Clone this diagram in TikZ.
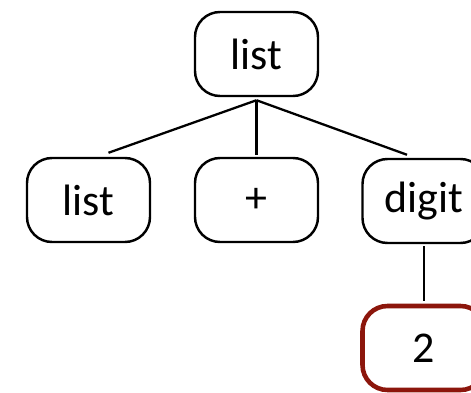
\documentclass[tikz,border=0pt]{standalone}
\usepackage{fontspec}
\setmainfont{Carlito}
\usepackage{tikz}

\tikzset{
	tnode/.style={draw, line width=1.4pt, rounded corners=0.5cm, minimum width=2.46cm, minimum height=1.68cm, font=\fontsize{25}{28}\selectfont},
	leaf/.style={tnode, draw={rgb,255:red,140;green,22;blue,12}, line width=2.6pt},
	edge/.style={line width=1.3pt}
}

\begin{document}
\begin{tikzpicture}[x=0.2mm,y=-0.2mm]
\useasboundingbox (0,0) rectangle (471,393);

\node[tnode] (top) at (256.5,54) {list};
\node[tnode] (list) at (88.5,200) {list};
\node[tnode] (plus) at (256.5,200) {+};
\node[tnode] (digit) at (424,201) {digit};
\node[leaf] (two) at (424,348) {2};

\coordinate (hub) at ([yshift=-0.06cm]top.south);

\draw[edge] (hub) -- ([xshift=0.4cm,yshift=0.08cm]list.north);
\draw[edge] (hub) -- ([yshift=0.04cm]plus.north);
\draw[edge] (hub) -- ([xshift=-0.34cm,yshift=0.06cm]digit.north);
\draw[edge] ([yshift=-0.04cm]digit.south) -- ([yshift=0.06cm]two.north);
\end{tikzpicture}
\end{document}
